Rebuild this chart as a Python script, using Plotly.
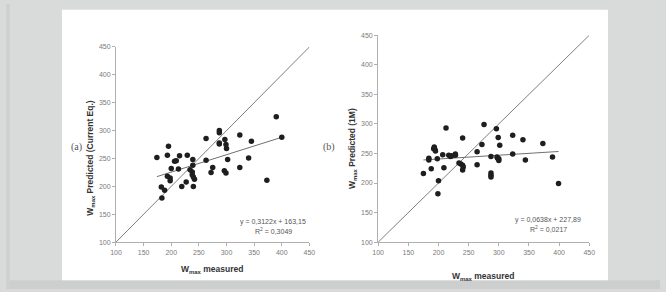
import plotly.graph_objects as go

# ---- data (a): Current Eq. ----
a_measured = [174, 193, 195, 182, 188, 183, 193, 198, 198, 200, 206, 209, 213, 215, 219, 227,
              229, 234, 238, 239, 239, 238, 240, 242, 240, 263, 263, 272, 275, 287, 287, 287,
              287, 297, 296, 299, 299, 300, 302, 324, 324, 340, 345, 373, 390, 400]
a_predicted = [252, 256, 272, 199, 193, 179, 218, 215, 210, 232, 245, 246, 231, 255, 200, 208,
               256, 230, 226, 248, 238, 221, 200, 213, 217, 286, 247, 225, 234, 300, 296, 278,
               276, 284, 228, 224, 275, 268, 248, 292, 234, 251, 281, 211, 325, 288]
a_slope, a_intercept, a_r2 = 0.3122, 163.15, "0,3049"

# ---- data (b): 1M ----
b_measured = [175, 184, 184, 188, 193, 194, 195, 192, 198, 200, 199, 207, 209, 212.5, 217, 220,
              222, 228, 228, 234, 237, 240, 241, 240, 240, 272, 264, 264, 275.5, 287, 287, 287,
              287, 296, 299, 297, 298, 300, 300, 301.5, 323, 323, 340, 344, 373, 389, 399]
b_predicted = [216, 242, 239, 224, 261, 257, 254, 258, 241, 204, 182, 248, 226, 293, 247, 245,
               246, 247, 249, 234, 232, 230, 227, 222, 276, 265, 253, 231, 299, 245, 217, 213,
               210, 292, 277, 244, 242, 241, 238, 264, 281, 249, 273, 239, 267, 244, 199]
b_slope, b_intercept, b_r2 = 0.0638, 227.89, "0,0217"

ticks = [100, 150, 200, 250, 300, 350, 400, 450]
W, H = 666, 292

def px(x):
    return x / W

def py(y):
    return 1 - y / H

fig = go.Figure()

panels = [
    dict(xa="x", ya="y", mx=a_measured, my=a_predicted, s=a_slope, i=a_intercept),
    dict(xa="x2", ya="y2", mx=b_measured, my=b_predicted, s=b_slope, i=b_intercept),
]
for p in panels:
    # identity line
    fig.add_trace(go.Scatter(x=[ticks[0], ticks[-1]], y=[ticks[0], ticks[-1]], mode="lines",
                             line=dict(color="#7f7f7f", width=1), xaxis=p["xa"], yaxis=p["ya"],
                             showlegend=False, hoverinfo="skip"))
    xmin, xmax = min(p["mx"]), max(p["mx"])
    fig.add_trace(go.Scatter(x=[xmin, xmax], y=[p["s"] * xmin + p["i"], p["s"] * xmax + p["i"]],
                             mode="lines", line=dict(color="#707070", width=1),
                             xaxis=p["xa"], yaxis=p["ya"], showlegend=False, hoverinfo="skip"))
    fig.add_trace(go.Scatter(x=p["mx"], y=p["my"], mode="markers",
                             marker=dict(color="#1e1e1e", size=5.5),
                             xaxis=p["xa"], yaxis=p["ya"], showlegend=False))

axis_common = dict(range=[100, 450], tickvals=ticks, showgrid=False, zeroline=False,
                   showline=True, linecolor="#b0b0b0", linewidth=1, ticks="outside",
                   ticklen=3, tickcolor="#b0b0b0",
                   tickfont=dict(family="Liberation Sans, Arial", size=7, color="#7a7a7a"))

fig.update_layout(
    width=W, height=H, margin=dict(l=0, r=0, t=0, b=0),
    paper_bgcolor="#d9dbdb", plot_bgcolor="rgba(0,0,0,0)",
    xaxis=dict(domain=[px(112), px(309)], anchor="y", **axis_common),
    yaxis=dict(domain=[py(244), py(44)], anchor="x", **axis_common),
    xaxis2=dict(domain=[px(379), px(594)], anchor="y2", **axis_common),
    yaxis2=dict(domain=[py(244), py(32)], anchor="x2", **axis_common),
    shapes=[
        dict(type="rect", xref="paper", yref="paper", x0=0, x1=1, y0=0, y1=py(283),
             fillcolor="#cdcfcf", line_width=0, layer="below"),
        dict(type="rect", xref="paper", yref="paper", x0=0, x1=px(4), y0=0, y1=1,
             fillcolor="#cfd1d1", line_width=0, layer="below"),
        dict(type="rect", xref="paper", yref="paper", x0=px(57), x1=px(613), y0=py(283), y1=py(6),
             fillcolor="white", line_width=0, layer="below"),
    ],
)

sans = "Liberation Sans, Arial"
title_font = dict(family=sans, size=8.5, color="#333")


def note(x, y, text, font, angle=0, yanchor="middle"):
    return dict(x=px(x), y=py(y), text=text, showarrow=False, xref="paper", yref="paper",
                xanchor="center", yanchor=yanchor, textangle=angle, font=font)


ann = [
    note(210, 264, "<b>W<sub>max</sub> measured</b>", title_font, yanchor="top"),
    note(486, 272, "<b>W<sub>max</sub> measured</b>", title_font, yanchor="top"),
    note(86, 158, "<b>W<sub>max</sub> Predicted (Current Eq.)</b>", title_font, angle=-90),
    note(353, 148, "<b>W<sub>max</sub> Predicted (1M)</b>", title_font, angle=-90),
    note(72, 147, "(a)", dict(family="Liberation Serif, Times New Roman", size=10, color="#555")),
    note(329, 147, "(b)", dict(family="Liberation Serif, Times New Roman", size=10, color="#555")),
]


def eq(s, i):
    return "y = " + f"{s:.4f}".replace(".", ",") + "x + " + f"{i:.2f}".replace(".", ",")


eq_font = dict(family=sans, size=7, color="#555")
ann += [
    note(272, 223, eq(a_slope, a_intercept), eq_font),
    note(272, 233, "R<sup>2</sup> = " + a_r2, eq_font),
    note(552, 221, eq(b_slope, b_intercept), eq_font),
    note(552, 230.5, "R<sup>2</sup> = " + b_r2, eq_font),
]
fig.update_layout(annotations=ann)

fig.write_html("out.html")
